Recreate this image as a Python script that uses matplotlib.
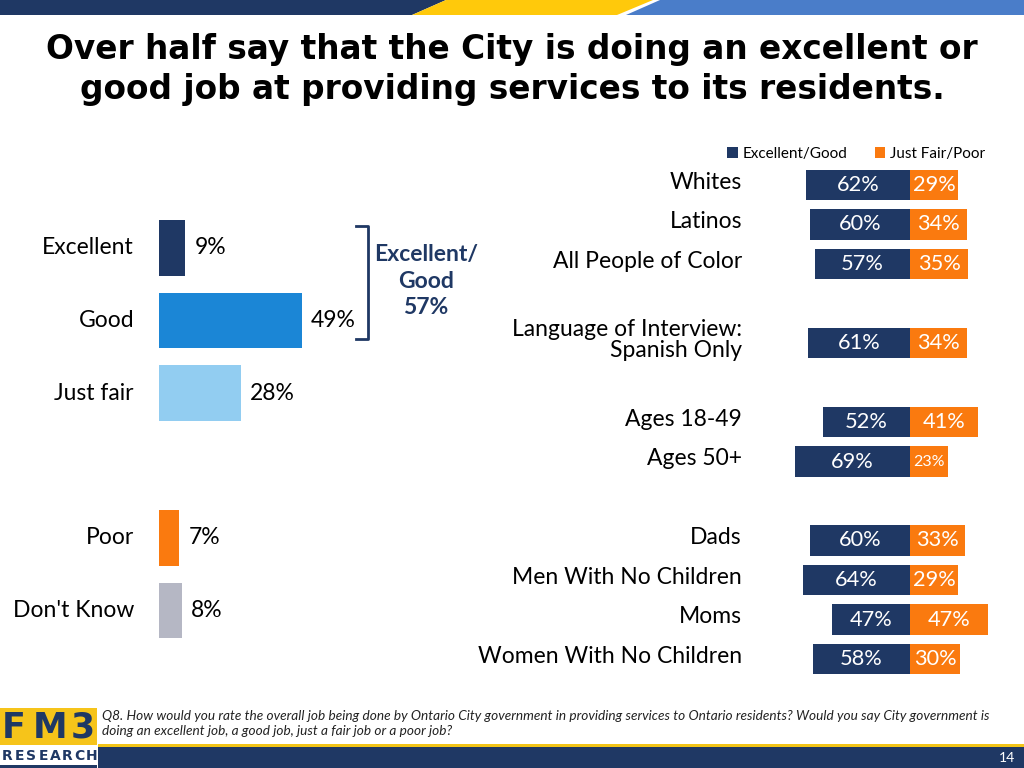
import matplotlib
matplotlib.use('Agg')
import matplotlib.pyplot as plt
from matplotlib.patches import Rectangle, Polygon
from matplotlib.lines import Line2D
from matplotlib.transforms import blended_transform_factory

W, H = 1024, 768
NAVY = '#1F3864'
ORANGE = '#FA7A0F'
BODY_FONT = 'Lato'

# left chart: overall rating
rating_labels = ['Excellent', 'Good', 'Just fair', 'Poor', "Don't Know"]
rating_values = [9, 49, 28, 7, 8]
rating_pos = [0, 1, 2, 4, 5]
rating_colors = [NAVY, '#1B86D6', '#92CDF1', ORANGE, '#B5B7C4']
exc_good_total = 57  # as printed (rounded figures)

# right chart: subgroups
group_labels = ['Whites', 'Latinos', 'All People of Color',
                'Language of Interview:\nSpanish Only',
                'Ages 18-49', 'Ages 50+',
                'Dads', 'Men With No Children', 'Moms', 'Women With No Children']
group_pos = [0, 1, 2, 4, 6, 7, 9, 10, 11, 12]
exc_good = [62, 60, 57, 61, 52, 69, 60, 64, 47, 58]
fair_poor = [29, 34, 35, 34, 41, 23, 33, 29, 47, 30]

plt.rcParams['font.family'] = [BODY_FONT, 'DejaVu Sans']

fig = plt.figure(figsize=(W / 100, H / 100), dpi=100)


def px_axes(left, top, width, height):
    # axes placed by pixel box measured from top-left
    return fig.add_axes([left / W, 1 - (top + height) / H, width / W, height / H])


def fx(x):
    return x / W


def fy(y):
    return 1 - y / H


# top band
band = fig.add_axes([0, 0, 1, 1], zorder=-1)
band.set_xlim(0, W)
band.set_ylim(H, 0)
band.axis('off')
band.add_patch(Polygon([(0, 0), (446, 0), (412, 15), (0, 15)], color=NAVY, lw=0))
band.add_patch(Polygon([(446, 0), (653, 0), (617, 15), (412, 15)], color='#FFC90B', lw=0))
band.add_patch(Polygon([(660, 0), (W, 0), (W, 15), (626, 15)], color='#4A7DC9', lw=0))

# footer and logo
band.add_patch(Rectangle((98, 744), W - 98, 3, color='#F2C417', lw=0))
band.add_patch(Rectangle((98, 747), W - 98, 21, color=NAVY, lw=0))
band.add_patch(Rectangle((0, 708), 97, 37, color='#F6C41A', lw=0))
band.add_patch(Rectangle((0, 765), 97, 3, color=NAVY, lw=0))
for ch, x in zip('FM3', [14, 50, 83]):
    band.text(x, 728, ch, ha='center', va='center', fontsize=25, fontweight='bold',
              color=NAVY, family='DejaVu Sans')
for i, ch in enumerate('RESEARCH'):
    band.text(7 + i * 12.1, 756, ch, ha='center', va='center', fontsize=10,
              fontweight='bold', color=NAVY, family='DejaVu Sans')
band.text(1015, 758, '14', ha='right', va='center', fontsize=10, color='white')
band.text(102, 716, 'Q8. How would you rate the overall job being done by Ontario City government in '
          'providing services to Ontario residents? Would you say City government is',
          ha='left', va='center', fontsize=9.8, style='italic', color='#222222')
band.text(102, 731, 'doing an excellent job, a good job, just a fair job or a poor job?',
          ha='left', va='center', fontsize=9.8, style='italic', color='#222222')

# title
fig.text(0.5, fy(50), 'Over half say that the City is doing an excellent or',
         ha='center', va='center', fontsize=23.6, fontweight='bold', color='black',
         family='DejaVu Sans')
fig.text(0.5, fy(90), 'good job at providing services to its residents.',
         ha='center', va='center', fontsize=23.6, fontweight='bold', color='black',
         family='DejaVu Sans')

# left chart
slot = 72.5
scale = 2.92
axl = px_axes(159, 248 - slot / 2, 100 * scale, 6 * slot)
axl.barh(rating_pos, rating_values, height=0.76, color=rating_colors)
axl.set_xlim(0, 100)
axl.set_ylim(5.5, -0.5)
axl.axis('off')
tl = blended_transform_factory(fig.transFigure, axl.transData)
for lab, val, p in zip(rating_labels, rating_values, rating_pos):
    axl.text(fx(134), p, lab, transform=tl, ha='right', va='center', fontsize=16.5)
    axl.annotate(f'{val}%', (val, p), xytext=(9, 0), textcoords='offset pixels',
                 ha='left', va='center', fontsize=16.5)

# bracket for excellent + good
bx = 368
band.add_line(Line2D([bx - 12, bx, bx, bx - 12], [226, 226, 339, 339], color=NAVY, lw=2))
band.text(426, 281, 'Excellent/\nGood\n%d%%' % exc_good_total,
          ha='center', va='center', fontsize=16.5, fontweight='bold', color=NAVY,
          linespacing=1.35)

# right chart
rslot = 39.5
rscale = 1.67
axr = px_axes(910 - 80 * rscale, 185 - rslot / 2, 140 * rscale, 13 * rslot)
neg = [-v for v in exc_good]
axr.barh(group_pos, neg, height=0.78, color=NAVY, label='Excellent/Good')
axr.barh(group_pos, fair_poor, height=0.78, color=ORANGE, label='Just Fair/Poor')
axr.set_xlim(-80, 60)
axr.set_ylim(12.5, -0.5)
axr.axis('off')
tr = blended_transform_factory(fig.transFigure, axr.transData)
for lab, p in zip(group_labels, group_pos):
    axr.text(fx(742), p - 0.07, lab, transform=tr, ha='right', va='center', fontsize=16.5,
             linespacing=1.0)
for p, a, b in zip(group_pos, exc_good, fair_poor):
    axr.text(-a / 2, p, f'{a}%', ha='center', va='center', color='white', fontsize=15.7)
    axr.text(b / 2, p, f'{b}%', ha='center', va='center', color='white',
             fontsize=11.5 if b < 25 else 15.7)

fig.legend(loc='center', bbox_to_anchor=(fx(856), fy(154)), ncol=2, frameon=False,
           fontsize=11, handlelength=0.7, handleheight=0.7, handletextpad=0.3,
           columnspacing=1.8)

fig.savefig('out.png', dpi=100)
